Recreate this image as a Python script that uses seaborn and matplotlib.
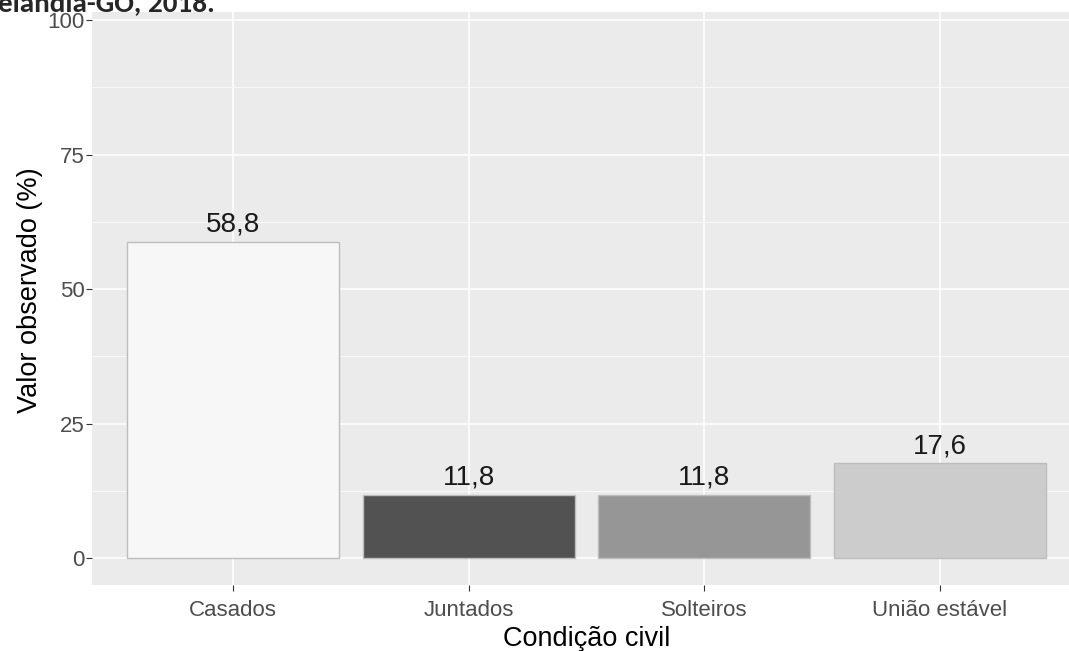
import pandas as pd
import numpy as np
import matplotlib.pyplot as plt
import seaborn as sns

# dados
categorias = ['Casados', 'Juntados', 'Solteiros', 'União estável']
valores = [58.8, 11.8, 11.8, 17.6]
rotulos = ['58,8', '11,8', '11,8', '17,6']
cores = ['#F7F7F7', '#525252', '#969696', '#CCCCCC']

df = pd.DataFrame({'cond': categorias, 'valor': valores})

sns.set_theme(style='darkgrid')
plt.rcParams['font.family'] = ['Liberation Sans', 'DejaVu Sans']

fig = plt.figure(figsize=(10.69, 6.51), dpi=100)
W, H = 1069, 651
# painel (a direita ultrapassa a figura, imagem original cortada)
x0, x1, y0, y1 = 92, 1081, 12, 585
ax = fig.add_axes([x0 / W, 1 - y1 / H, (x1 - x0) / W, (y1 - y0) / H])
ax.set_facecolor('#EBEBEB')

sns.barplot(data=df, x='cond', y='valor', hue='cond', palette=cores,
            width=0.9, edgecolor='#BDBDBD', linewidth=1, legend=False,
            ax=ax, zorder=3)

for i, (v, r) in enumerate(zip(valores, rotulos)):
    ax.annotate(r, (i, v), xytext=(0, 3), textcoords='offset points',
                ha='center', va='bottom', fontsize=20, color='#1a1a1a')

ax.set_xlim(-0.6, 3.6)
ax.set_ylim(-5, 101.5)
ax.set_yticks([0, 25, 50, 75, 100])
ax.set_yticks([12.5, 37.5, 62.5, 87.5], minor=True)
ax.grid(True, which='major', color='white', linewidth=1.1, zorder=0)
ax.grid(True, which='minor', axis='y', color='white', linewidth=0.5, zorder=0)
ax.set_axisbelow(True)
for s in ax.spines.values():
    s.set_visible(False)

ax.tick_params(axis='both', which='major', length=4, width=0.8, color='#333333',
               labelcolor='#4D4D4D', labelsize=16, pad=1.5, left=True, bottom=True)
ax.tick_params(axis='x', which='major', pad=6.5)
ax.tick_params(axis='both', which='minor', length=0)

ax.set_xlabel('Condição civil', fontsize=19.5, color='black')
ax.set_ylabel('Valor observado (%)', fontsize=19.5, color='black')
ax.xaxis.set_label_coords(0.5, -0.071)
ax.yaxis.set_label_coords(-0.05, 0.515)

# titulo cortado no topo da imagem original
fig.text(-0.002, 1 - 11 / H, 'elândia-GO, 2018.', fontsize=21, fontweight='bold',
         family=['Carlito', 'Liberation Sans', 'DejaVu Sans'], va='baseline', ha='left')

fig.savefig('out.png', dpi=100)
